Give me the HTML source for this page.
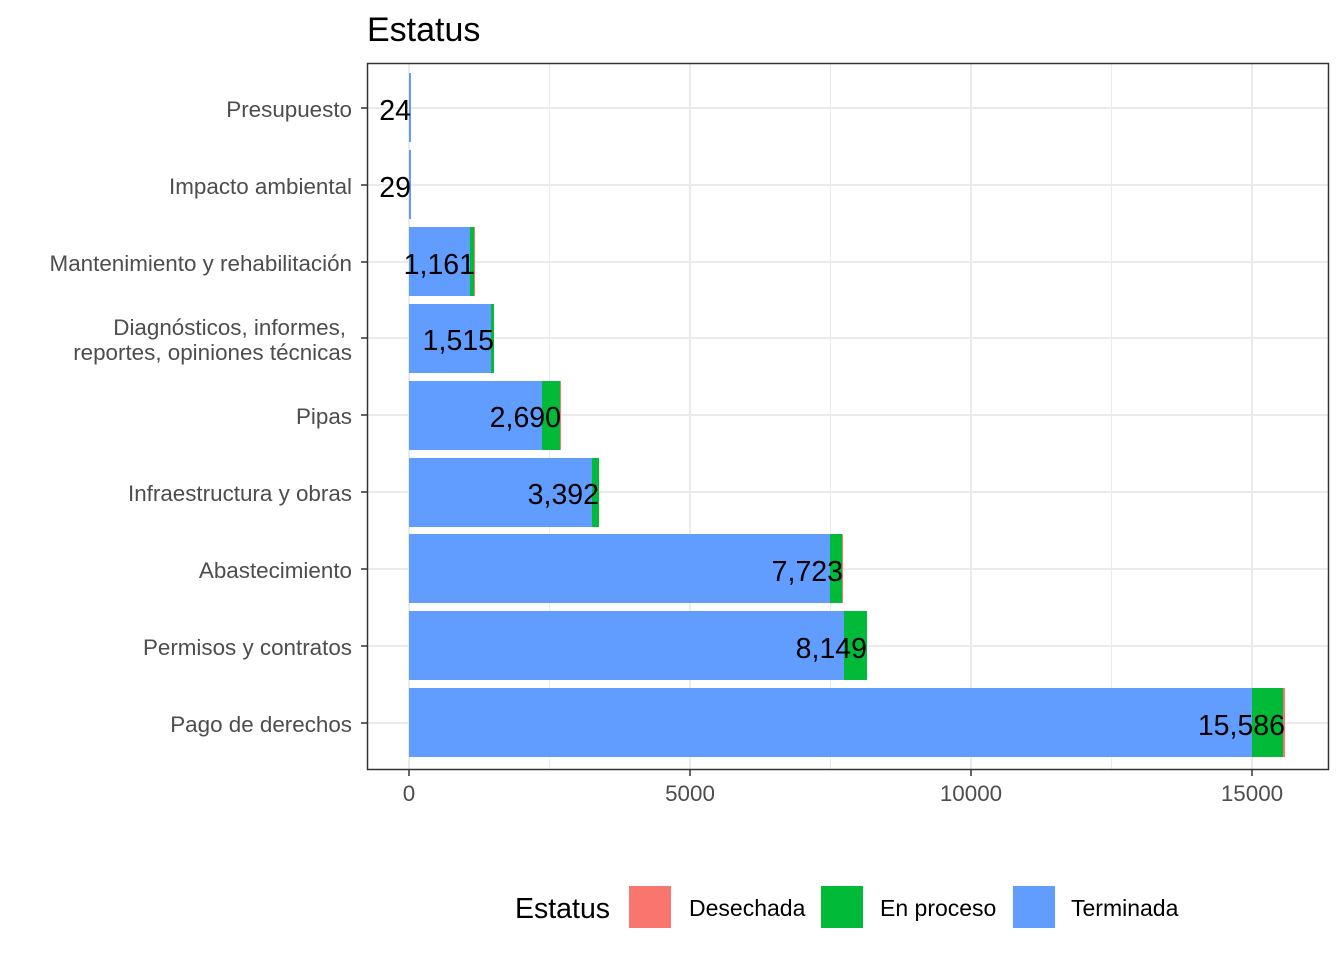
<!DOCTYPE html>
<html><head><meta charset="utf-8"><style>body{margin:0;background:#fff}svg{display:block}text{font-family:"Liberation Sans",sans-serif}</style></head>
<body>
<svg width="1344" height="960" xmlns="http://www.w3.org/2000/svg">
<text x="367" y="41" font-size="34" fill="#000">Estatus</text>
<g stroke="#ebebeb" stroke-width="1">
<line x1="549.5" y1="63" x2="549.5" y2="769"/><line x1="830.5" y1="63" x2="830.5" y2="769"/><line x1="1111.5" y1="63" x2="1111.5" y2="769"/>
</g>
<g stroke="#ebebeb" stroke-width="2">
<line x1="409" y1="63" x2="409" y2="769"/><line x1="690" y1="63" x2="690" y2="769"/><line x1="971" y1="63" x2="971" y2="769"/><line x1="1252" y1="63" x2="1252" y2="769"/>
<line x1="367" y1="108" x2="1329" y2="108"/><line x1="367" y1="185" x2="1329" y2="185"/><line x1="367" y1="262" x2="1329" y2="262"/><line x1="367" y1="338" x2="1329" y2="338"/><line x1="367" y1="415" x2="1329" y2="415"/><line x1="367" y1="492" x2="1329" y2="492"/><line x1="367" y1="569" x2="1329" y2="569"/><line x1="367" y1="646" x2="1329" y2="646"/><line x1="367" y1="723" x2="1329" y2="723"/>
</g>
<g>
<rect x="409" y="73" width="2" height="69" fill="#619CFF"/>
<rect x="409" y="150" width="2" height="69" fill="#619CFF"/>
<rect x="409" y="227" width="61" height="69" fill="#619CFF"/><rect x="470" y="227" width="4" height="69" fill="#00BA38"/><rect x="474" y="227" width="1" height="69" fill="#F8766D"/>
<rect x="409" y="304" width="82" height="69" fill="#619CFF"/><rect x="491" y="304" width="3" height="69" fill="#00BA38"/>
<rect x="409" y="381" width="133" height="69" fill="#619CFF"/><rect x="542" y="381" width="18" height="69" fill="#00BA38"/><rect x="560" y="381" width="1" height="69" fill="#F8766D"/>
<rect x="409" y="458" width="183" height="69" fill="#619CFF"/><rect x="592" y="458" width="7" height="69" fill="#00BA38"/>
<rect x="409" y="534" width="421" height="69" fill="#619CFF"/><rect x="830" y="534" width="12" height="69" fill="#00BA38"/><rect x="842" y="534" width="1" height="69" fill="#F8766D"/>
<rect x="409" y="611" width="435" height="69" fill="#619CFF"/><rect x="844" y="611" width="23" height="69" fill="#00BA38"/>
<rect x="409" y="688" width="843" height="69" fill="#619CFF"/><rect x="1252" y="688" width="31" height="69" fill="#00BA38"/><rect x="1283" y="688" width="2" height="69" fill="#F8766D"/>
</g>
<g font-size="28.5" fill="#000" text-anchor="end">
<text x="411" y="120">24</text><text x="411" y="197">29</text><text x="475" y="274">1,161</text><text x="494" y="350">1,515</text><text x="561" y="427">2,690</text><text x="599" y="504">3,392</text><text x="843" y="581">7,723</text><text x="867" y="658">8,149</text><text x="1285" y="735">15,586</text>
</g>
<rect x="367.5" y="63.5" width="961" height="706" fill="none" stroke="#333" stroke-width="1.5"/>
<g stroke="#333" stroke-width="1.5">
<line x1="361" y1="108" x2="367" y2="108"/><line x1="361" y1="185" x2="367" y2="185"/><line x1="361" y1="262" x2="367" y2="262"/><line x1="361" y1="338" x2="367" y2="338"/><line x1="361" y1="415" x2="367" y2="415"/><line x1="361" y1="492" x2="367" y2="492"/><line x1="361" y1="569" x2="367" y2="569"/><line x1="361" y1="646" x2="367" y2="646"/><line x1="361" y1="723" x2="367" y2="723"/>
<line x1="409" y1="770" x2="409" y2="776"/><line x1="690" y1="770" x2="690" y2="776"/><line x1="971" y1="770" x2="971" y2="776"/><line x1="1252" y1="770" x2="1252" y2="776"/>
</g>
<g font-size="22.4" fill="#4d4d4d" text-anchor="end">
<text x="352" y="117">Presupuesto</text><text x="352" y="194">Impacto ambiental</text><text x="352" y="271">Mantenimiento y rehabilitación</text>
<text x="346" y="335">Diagnósticos, informes,</text><text x="352" y="360">reportes, opiniones técnicas</text>
<text x="352" y="424">Pipas</text><text x="352" y="501">Infraestructura y obras</text><text x="352" y="578">Abastecimiento</text><text x="352" y="655">Permisos y contratos</text><text x="352" y="732">Pago de derechos</text>
</g>
<g font-size="22.4" fill="#4d4d4d" text-anchor="middle">
<text x="409" y="801">0</text><text x="690" y="801">5000</text><text x="971" y="801">10000</text><text x="1252" y="801">15000</text>
</g>
<text x="515" y="918" font-size="28.5" fill="#000">Estatus</text>
<rect x="629" y="886" width="42" height="42" fill="#F8766D"/><text x="689" y="916" font-size="23" fill="#000">Desechada</text>
<rect x="821" y="886" width="42" height="42" fill="#00BA38"/><text x="880" y="916" font-size="23" fill="#000">En proceso</text>
<rect x="1013" y="886" width="42" height="42" fill="#619CFF"/><text x="1071" y="916" font-size="23" fill="#000">Terminada</text>
</svg>
</body></html>
